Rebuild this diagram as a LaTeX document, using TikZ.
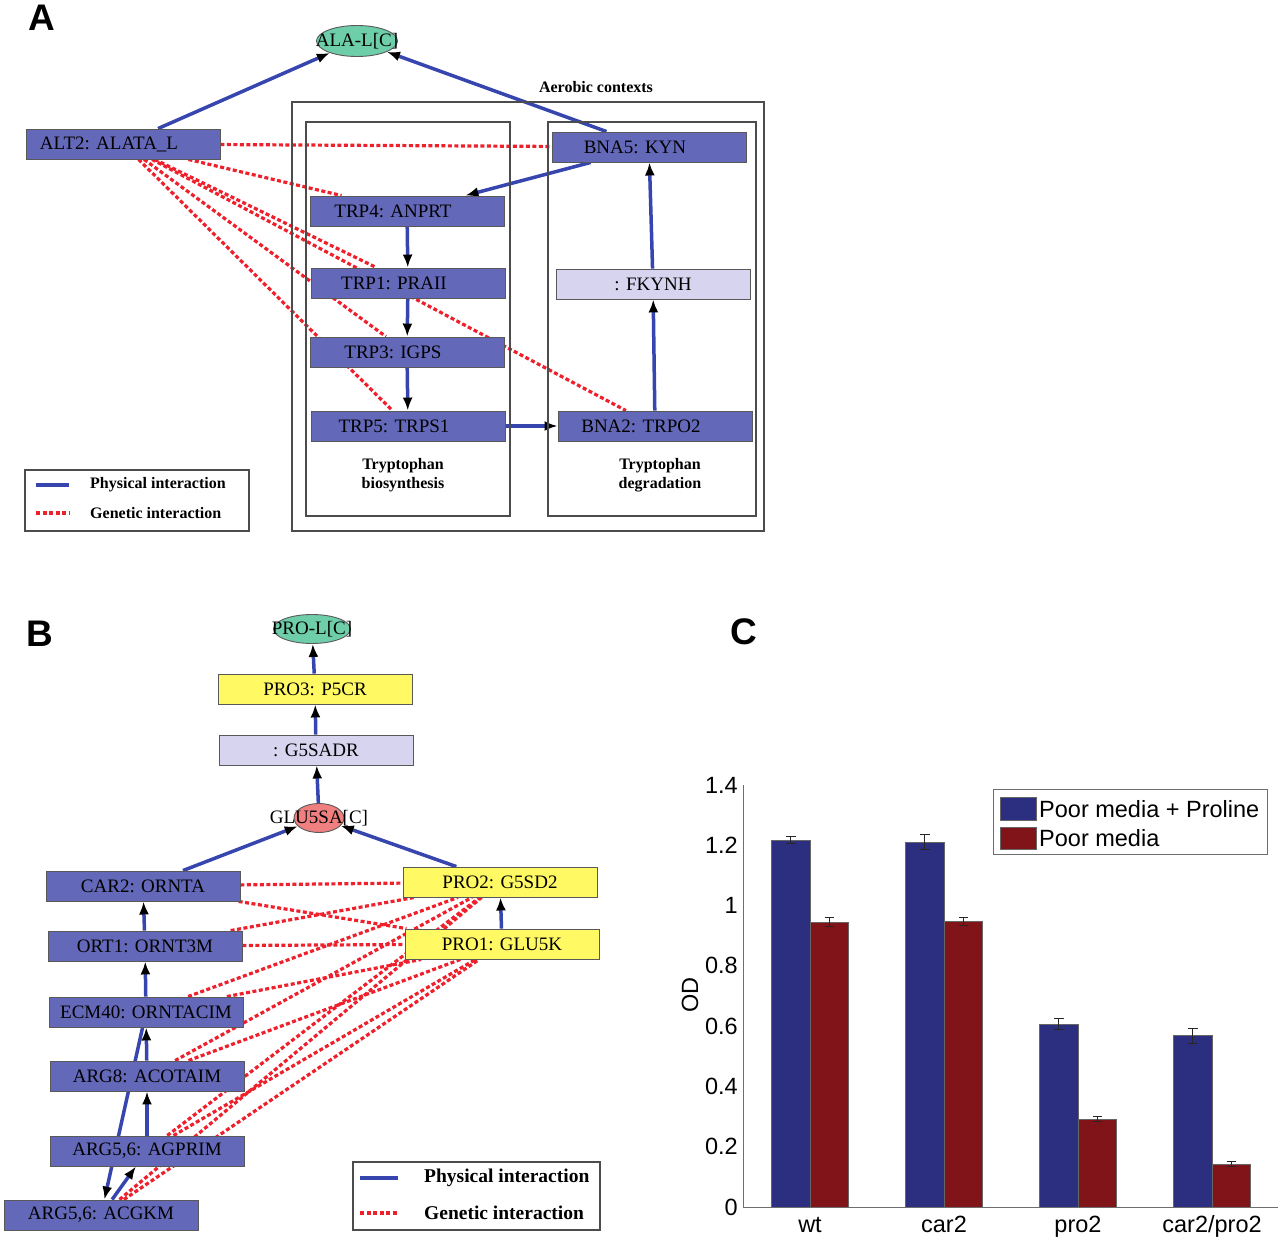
\documentclass[tikz,border=0pt]{standalone}
\usepackage{fontspec}
\setmainfont{Liberation Serif}
\newfontfamily\chartfont{Liberation Sans}
\usetikzlibrary{arrows.meta,shapes.geometric,backgrounds}

\definecolor{physblue}{RGB}{55,70,175}
\definecolor{genred}{RGB}{238,32,44}
\definecolor{rxnblue}{RGB}{100,104,184}
\definecolor{nogenelav}{RGB}{214,212,238}
\definecolor{proyel}{RGB}{255,250,100}
\definecolor{metgreen}{RGB}{110,206,170}
\definecolor{metpink}{RGB}{240,128,128}
\definecolor{barblue}{RGB}{44,46,128}
\definecolor{barred}{RGB}{128,20,24}
\definecolor{axisgrey}{RGB}{110,110,110}

\tikzset{
  rxn/.style={draw=black!65, line width=0.9pt, fill=rxnblue, minimum width=194pt,
    minimum height=30pt, inner sep=0pt, font=\fontsize{19}{21}\selectfont},
  rxnA/.style={rxn, execute at end node={\hspace*{28pt}}},
  nogene/.style={rxn, fill=nogenelav},
  prorxn/.style={rxn, fill=proyel},
  met/.style={ellipse, draw=black!65, line width=0.9pt, inner sep=0pt},
  mettext/.style={inner sep=0pt, font=\fontsize{19}{21}\selectfont},
  phys/.style={draw=physblue, line width=3.5pt, -{Latex[color=black,length=13pt,width=10pt]}},
  gen/.style={draw=genred, line width=3.2pt, dash pattern=on 4pt off 2.5pt},
  physleg/.style={draw=physblue, line width=4pt},
  boxlab/.style={font=\fontsize{16}{18.5}\selectfont\bfseries, align=center, inner sep=0pt},
  panel/.style={font=\chartfont\bfseries\fontsize{37}{40}\selectfont, inner sep=0pt},
  chartlab/.style={font=\chartfont\fontsize{23.5}{26}\selectfont, inner sep=0pt},
}

\begin{document}
\begin{tikzpicture}[x=1pt,y=-1pt]
\useasboundingbox (0,0) rectangle (1280,1238);

% Panel letters
\node[panel] (labA) at (42,18) {A};
\node[panel] (labB) at (40,634) {B};
\node[panel] (labC) at (744,632) {C};

% ---------------- A ----------------
% Context boxes
\draw[black!70, line width=1.2pt] (292,102) rectangle (764,531);
\draw[black!70, line width=1.2pt] (306,122) rectangle (510,516);
\draw[black!70, line width=1.2pt] (548,122) rectangle (756,516);
\node[boxlab] (aerobic) at (596,87) {Aerobic contexts};
\node[boxlab] (trpsyn) at (403,475) {Tryptophan\\biosynthesis};
\node[boxlab] (trpdeg) at (660,475) {Tryptophan\\degradation};

% Nodes
\node[met, fill=metgreen, minimum width=81pt, minimum height=31pt] (alaL) at (357,41) {};
\node[mettext] (alaLtxt) at (alaL) {ALA-L[C]};
\node[rxnA] (alt2) at (123,144) {ALT2: ALATA\_L};
\node[rxnA] (bna5) at (649,147) {BNA5: KYN};
\node[rxnA] (trp4) at (407,211) {TRP4: ANPRT};
\node[rxnA] (trp1) at (408,283) {TRP1: PRAII};
\node[rxnA] (trp3) at (407,352) {TRP3: IGPS};
\node[rxnA] (trp5) at (408,426) {TRP5: TRPS1};
\node[nogene] (fkynh) at (653,284) {: FKYNH};
\node[rxnA] (bna2) at (655,426) {BNA2: TRPO2};

\begin{pgfonlayer}{background}
  % Genetic interactions
  \foreach \t in {bna5,trp4,trp1,bna2,trp3,trp5}
    \draw[gen] (alt2) -- (\t);
  % Physical interactions
  \draw[phys] (alt2) -- (alaL);
  \draw[phys] (bna5) -- (alaL);
  \draw[phys] (bna5) -- (trp4);
  \draw[phys] (trp4) -- (trp1);
  \draw[phys] (trp1) -- (trp3);
  \draw[phys] (trp3) -- (trp5);
  \draw[phys] (trp5) -- (bna2);
  \draw[phys] (bna2) -- (fkynh);
  \draw[phys] (fkynh) -- (bna5);
\end{pgfonlayer}

% Legend
\draw[black!70, line width=1.2pt] (25,470) rectangle (249,531);
\coordinate (lpa1) at (36,485); \coordinate (lpa2) at (69,485);
\coordinate (lga1) at (36,513); \coordinate (lga2) at (69,513);
\draw[physleg] (lpa1) -- (lpa2);
\draw[gen] (lga1) -- (lga2);
\node[boxlab, anchor=west] (legAphys) at (90,485) {Physical interaction};
\node[boxlab, anchor=west] (legAgen) at (90,513) {Genetic interaction};

% ---------------- B ----------------
\node[met, fill=metgreen, minimum width=77pt, minimum height=29pt] (proL) at (312,629) {};
\node[mettext] (proLtxt) at (proL) {PRO-L[C]};
\node[prorxn] (pro3) at (315,689) {PRO3: P5CR};
\node[nogene] (g5sadr) at (316,750) {: G5SADR};
\node[met, fill=metpink, minimum width=50pt, minimum height=29pt] (glu5sa) at (319,818) {};
\node[mettext] (glu5satxt) at (glu5sa) {GLU5SA[C]};
\node[rxn] (car2) at (143,886) {CAR2: ORNTA};
\node[rxn] (ort1) at (145,946) {ORT1: ORNT3M};
\node[rxn] (ecm40) at (146,1012) {ECM40: ORNTACIM};
\node[rxn] (arg8) at (147,1076) {ARG8: ACOTAIM};
\node[rxn] (agprim) at (147,1151) {ARG5,6: AGPRIM};
\node[rxn] (acgkm) at (101,1215) {ARG5,6: ACGKM};
\node[prorxn] (pro2) at (500,882) {PRO2: G5SD2};
\node[prorxn] (pro1) at (502,944) {PRO1: GLU5K};

\begin{pgfonlayer}{background}
  % Genetic interactions
  \foreach \s in {car2,ort1,ecm40,arg8,agprim,acgkm} {
    \draw[gen] (\s) -- (pro2);
    \draw[gen] (\s) -- (pro1);
  }
  % Physical interactions
  \draw[phys] (car2) -- (glu5sa);
  \draw[phys] (pro2) -- (glu5sa);
  \draw[phys] (glu5sa) -- (g5sadr);
  \draw[phys] (g5sadr) -- (pro3);
  \draw[phys] (pro3) -- (proL);
  \draw[phys] (ort1) -- (car2);
  \draw[phys] (ecm40) -- (ort1);
  \draw[phys] (arg8) -- (ecm40);
  \draw[phys] (agprim) -- (arg8);
  \draw[phys] (acgkm) -- (agprim);
  \draw[phys] (ecm40) -- (acgkm);
  \draw[phys] (pro1) -- (pro2);
\end{pgfonlayer}

% Legend
\draw[black!70, line width=1.2pt] (353,1162) rectangle (600,1230);
\coordinate (lpb1) at (360,1178); \coordinate (lpb2) at (398,1178);
\coordinate (lgb1) at (360,1213); \coordinate (lgb2) at (398,1213);
\draw[physleg] (lpb1) -- (lpb2);
\draw[gen] (lgb1) -- (lgb2);
\node[boxlab, font=\fontsize{19.5}{22}\selectfont\bfseries, anchor=west] (legBphys) at (424,1178) {Physical interaction};
\node[boxlab, font=\fontsize{19.5}{22}\selectfont\bfseries, anchor=west] (legBgen) at (424,1213) {Genetic interaction};

% ---------------- C ----------------
% Bars with error bars
\foreach \gx/\vb/\eb/\vr/\er/\lab [count=\i] in
  {810/1.218/0.013/0.946/0.015/wt, 944/1.211/0.024/0.947/0.013/car2,
   1078/0.607/0.019/0.292/0.008/pro2, 1212/0.568/0.025/0.143/0.008/car2\slash pro2} {
  \filldraw[fill=barblue, draw=black!60, line width=0.7pt] (\gx-38.5,1207) rectangle (\gx,{1207-\vb*301.4});
  \filldraw[fill=barred, draw=black!60, line width=0.7pt] (\gx,1207) rectangle (\gx+38.5,{1207-\vr*301.4});
  \draw[black!85, line width=0.8pt] (\gx-19.25,{1207-(\vb-\eb)*301.4}) -- (\gx-19.25,{1207-(\vb+\eb)*301.4});
  \draw[black!85, line width=0.8pt] (\gx-24,{1207-(\vb-\eb)*301.4}) -- (\gx-14.5,{1207-(\vb-\eb)*301.4});
  \draw[black!85, line width=0.8pt] (\gx-24,{1207-(\vb+\eb)*301.4}) -- (\gx-14.5,{1207-(\vb+\eb)*301.4});
  \draw[black!85, line width=0.8pt] (\gx+19.25,{1207-(\vr-\er)*301.4}) -- (\gx+19.25,{1207-(\vr+\er)*301.4});
  \draw[black!85, line width=0.8pt] (\gx+14.5,{1207-(\vr-\er)*301.4}) -- (\gx+24,{1207-(\vr-\er)*301.4});
  \draw[black!85, line width=0.8pt] (\gx+14.5,{1207-(\vr+\er)*301.4}) -- (\gx+24,{1207-(\vr+\er)*301.4});
  \node[chartlab, anchor=base] (xlab\i) at (\gx,1232) {\lab};
}

% Axes
\draw[axisgrey, line width=1pt] (743,785) -- (743,1207) -- (1278,1207);
\foreach \v/\tl [count=\i] in {0/0,0.2/0.2,0.4/0.4,0.6/0.6,0.8/0.8,1/1,1.2/1.2,1.4/1.4}
  \node[chartlab, anchor=east] (ytick\i) at (738,{1207-\v*301.4}) {\tl};
\node[chartlab, rotate=90] (odlab) at (690,995) {OD};

% Legend
\filldraw[fill=white, draw=axisgrey, line width=1pt] (993,789) rectangle (1267,854);
\filldraw[fill=barblue, draw=black!60, line width=0.7pt] (1000,797) rectangle (1036,820);
\filldraw[fill=barred, draw=black!60, line width=0.7pt] (1000,827) rectangle (1036,849);
\node[chartlab, anchor=base west] (legCa) at (1039,817) {Poor media + Proline};
\node[chartlab, anchor=base west] (legCb) at (1039,846) {Poor media};
\end{tikzpicture}
\end{document}
